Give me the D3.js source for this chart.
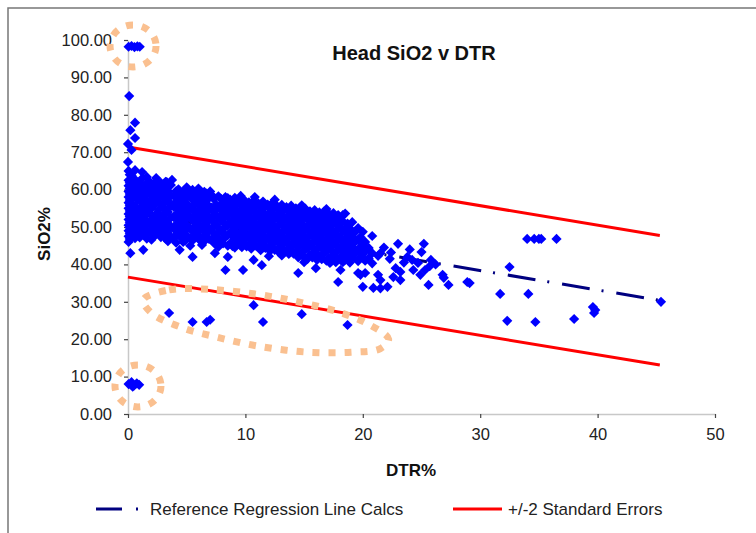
<!DOCTYPE html>
<html lang="en">
<head>
<meta charset="UTF-8">
<title>Head SiO2 v DTR</title>
<style>
  * { margin: 0; padding: 0; }
  html, body { overflow: hidden; background: #fff; }
  text { font-family: "Liberation Sans", Arial, sans-serif; }
</style>
</head>
<body>
<div id="chart"></div>
<script src="https://cdn.jsdelivr.net/npm/d3@7/dist/d3.min.js"></script>
<script>
// ---- data (DTR%, SiO2%) ----
const topPoints = [[0.05, 98.2], [0.3, 98.4], [0.55, 98.1], [0.8, 98.3], [1.0, 98.2]]
const bottomPoints = [[0.05, 8.0], [0.3, 8.5], [0.5, 7.6], [0.75, 8.2], [0.95, 7.8], [0.4, 7.3]]
const highPoints = [[0.1, 85.0], [0.6, 77.9], [0.2, 75.9], [0.6, 73.8], [0.0, 72.2], [0.3, 70.6],
  [0.0, 67.4], [0.6, 65.2], [1.2, 64.7], [3.3, 62.0], [3.75, 62.6]]
const lowPoints = [[3.5, 27.0], [5.5, 24.6], [6.7, 24.6], [7.0, 25.2], [10.7, 29.1], [11.5, 24.6],
  [14.8, 26.7], [18.7, 23.8]]
const edgePoints = [[0.2, 43.0], [1.3, 43.9], [4.4, 43.9], [5.5, 42.0], [7.4, 43.0], [8.5, 42.0],
  [8.3, 38.5], [9.8, 38.5], [10.7, 41.2], [11.4, 39.8], [14.5, 37.7], [16.0, 39.0], [18.1, 38.5],
  [19.6, 37.7], [17.2, 40.4], [16.2, 42.5], [17.9, 35.3], [20.0, 34.0], [20.9, 33.7], [21.5, 33.6],
  [22.1, 34.0], [21.3, 37.2], [20.2, 37.7], [21.5, 35.8], [19.8, 37.2],
  [1.6, 63.4], [2.4, 63.1], [5.0, 60.6], [6.0, 60.3], [7.0, 59.5], [9.6, 58.3], [10.8, 58.0],
  [12.5, 57.3], [14.8, 55.8], [16.9, 54.8], [18.5, 53.6], [12.0, 42.2], [15.0, 40.6]]
const mainCluster = [
  [0.05, 65.0], [0.05, 62.5], [0.05, 61.0], [0.05, 59.5], [0.05, 58.0], [0.05, 56.5], [0.05, 55.0],
  [0.05, 53.5], [0.05, 52.0], [0.05, 50.5], [0.05, 49.0], [0.05, 47.5], [0.05, 46.0],
  [0.3, 63.8], [0.3, 60.2], [0.3, 57.3], [0.3, 54.1], [0.3, 51.2], [0.3, 48.6],
  [0.6, 62.7], [0.6, 61.1], [0.6, 58.8], [0.6, 55.6], [0.6, 52.7], [0.6, 49.8], [0.6, 47.0],
  [1.0, 61.9], [1.0, 59.6], [1.0, 57.1], [1.0, 54.4], [1.0, 51.8], [1.0, 49.3], [1.0, 47.2],
  [1.4, 60.8], [1.4, 58.2], [1.4, 55.5], [1.4, 53.0], [1.4, 50.4], [1.4, 48.0],
  [1.8, 62.2], [1.8, 59.1], [1.8, 56.3], [1.8, 53.9], [1.8, 51.1], [1.8, 48.7],
  [2.2, 61.5], [2.2, 58.6], [2.2, 55.9], [2.2, 52.4], [2.2, 49.9], [2.2, 47.5],
  [2.6, 60.4], [2.6, 57.7], [2.6, 54.6], [2.6, 51.5], [2.6, 48.9],
  [3.0, 61.0], [3.0, 58.9], [3.0, 56.2], [3.0, 53.3], [3.0, 50.6], [3.0, 47.8],
  [3.4, 59.6], [3.4, 57.0], [3.4, 54.0], [3.4, 51.0], [3.4, 48.4], [3.4, 46.2],
  [3.9, 58.3], [3.9, 55.4], [3.9, 52.6], [3.9, 49.6], [3.9, 47.0],
  [4.3, 60.1], [4.3, 57.5], [4.3, 54.8], [4.3, 51.8], [4.3, 48.8],
  [4.7, 59.2], [4.7, 56.6], [4.7, 53.6], [4.7, 50.9], [4.7, 48.1], [4.7, 46.0],
  [5.1, 58.8], [5.1, 55.9], [5.1, 53.2], [5.1, 50.2], [5.1, 47.4],
  [5.5, 59.9], [5.5, 57.3], [5.5, 54.5], [5.5, 51.7], [5.5, 48.9], [5.5, 46.4],
  [5.9, 59.4], [5.9, 56.7], [5.9, 53.9], [5.9, 50.8], [5.9, 47.9],
  [6.3, 58.5], [6.3, 55.7], [6.3, 52.9], [6.3, 49.9], [6.3, 47.1], [6.3, 45.2],
  [6.7, 58.9], [6.7, 56.2], [6.7, 53.4], [6.7, 50.4], [6.7, 48.3],
  [7.1, 58.6], [7.1, 55.2], [7.1, 52.4], [7.1, 49.5], [7.1, 46.6],
  [7.5, 56.0], [7.5, 53.1], [7.5, 50.6], [7.5, 47.8], [7.5, 45.3],
  [7.9, 57.6], [7.9, 54.7], [7.9, 51.9], [7.9, 49.0], [7.9, 46.2],
  [8.3, 58.0], [8.3, 55.5], [8.3, 52.7], [8.3, 50.0], [8.3, 47.3],
  [8.7, 57.3], [8.7, 54.3], [8.7, 51.4], [8.7, 48.5], [8.7, 45.6],
  [9.1, 57.8], [9.1, 55.0], [9.1, 52.3], [9.1, 49.6], [9.1, 46.9], [9.1, 44.5],
  [9.5, 56.9], [9.5, 54.1], [9.5, 51.2], [9.5, 48.3], [9.5, 45.8],
  [9.9, 57.2], [9.9, 54.6], [9.9, 51.8], [9.9, 49.2], [9.9, 46.5],
  [10.3, 56.6], [10.3, 53.8], [10.3, 50.9], [10.3, 48.0], [10.3, 45.3],
  [10.7, 57.0], [10.7, 54.4], [10.7, 51.6], [10.7, 48.8], [10.7, 46.1],
  [11.1, 56.3], [11.1, 53.5], [11.1, 50.5], [11.1, 47.6], [11.1, 44.8],
  [11.5, 56.8], [11.5, 54.0], [11.5, 51.3], [11.5, 48.5], [11.5, 45.7],
  [11.9, 56.0], [11.9, 53.2], [11.9, 50.2], [11.9, 47.3], [11.9, 44.4],
  [12.3, 56.4], [12.3, 53.7], [12.3, 50.8], [12.3, 48.1], [12.3, 45.4],
  [12.7, 55.6], [12.7, 52.9], [12.7, 50.0], [12.7, 47.0], [12.7, 44.0],
  [13.1, 55.9], [13.1, 53.3], [13.1, 50.6], [13.1, 47.7], [13.1, 45.0], [13.1, 42.4],
  [13.5, 55.3], [13.5, 52.5], [13.5, 49.6], [13.5, 46.7], [13.5, 43.7],
  [13.9, 55.7], [13.9, 52.8], [13.9, 50.1], [13.9, 47.4], [13.9, 44.6],
  [14.3, 55.0], [14.3, 52.2], [14.3, 49.3], [14.3, 46.3], [14.3, 43.4],
  [14.7, 54.7], [14.7, 51.9], [14.7, 49.0], [14.7, 46.0], [14.7, 42.8],
  [15.1, 54.9], [15.1, 52.4], [15.1, 49.5], [15.1, 46.8], [15.1, 44.0],
  [15.5, 54.2], [15.5, 51.5], [15.5, 48.6], [15.5, 45.6], [15.5, 42.6],
  [15.9, 54.5], [15.9, 51.8], [15.9, 48.9], [15.9, 46.2], [15.9, 43.2],
  [16.3, 53.9], [16.3, 51.1], [16.3, 48.2], [16.3, 45.3], [16.3, 42.1],
  [16.7, 54.1], [16.7, 51.4], [16.7, 48.6], [16.7, 45.8], [16.7, 43.0],
  [17.1, 53.6], [17.1, 50.7], [17.1, 47.9], [17.1, 44.9], [17.1, 41.7],
  [17.5, 53.7], [17.5, 50.9], [17.5, 48.0], [17.5, 45.2], [17.5, 42.4],
  [17.9, 53.2], [17.9, 50.4], [17.9, 47.5], [17.9, 44.6], [17.9, 41.4],
  [18.3, 53.2], [18.3, 51.5], [18.3, 48.8], [18.3, 46.0], [18.3, 43.3], [18.3, 40.6],
  [18.7, 50.9], [18.7, 48.1], [18.7, 45.4], [18.7, 42.5],
  [19.1, 51.3], [19.1, 47.4], [19.1, 44.8], [19.1, 41.8],
  [19.6, 49.7], [19.6, 46.5], [19.6, 43.9], [19.6, 40.9],
  [20.0, 48.7], [20.0, 45.2], [20.0, 42.7],
  [20.5, 44.4], [20.5, 41.6], [20.8, 47.6], [20.8, 43.0], [20.8, 40.3],
  [21.3, 42.3], [21.5, 43.0]
]
const clusterFill = [
  [0.15, 64.0], [0.15, 61.8], [0.15, 60.3], [0.15, 58.8], [0.15, 57.2], [0.15, 55.8], [0.15, 54.3],
  [0.15, 52.8], [0.15, 51.3], [0.15, 49.8], [0.15, 48.3], [0.15, 46.8],
  [0.45, 62.0], [0.45, 59.0], [0.45, 55.8], [0.45, 52.6], [0.45, 50.0], [0.45, 47.8],
  [0.8, 60.0], [0.8, 57.4], [0.8, 54.1], [0.8, 51.2], [0.8, 48.5],
  [1.2, 63.0], [1.2, 60.7], [1.2, 58.4], [1.2, 55.7], [1.2, 53.1], [1.2, 50.6], [1.2, 48.2],
  [1.6, 61.6], [1.6, 59.5], [1.6, 56.9], [1.6, 54.2], [1.6, 51.7], [1.6, 49.2], [1.6, 46.9],
  [2.0, 60.3], [2.0, 57.5], [2.0, 55.0], [2.0, 52.0], [2.0, 49.0], [2.0, 46.6],
  [2.4, 62.3], [2.4, 59.9], [2.4, 56.8], [2.4, 53.5], [2.4, 50.7], [2.4, 48.1],
  [2.8, 61.8], [2.8, 59.0], [2.8, 56.1], [2.8, 53.0], [2.8, 50.1], [2.8, 47.3],
  [3.2, 62.1], [3.2, 60.1], [3.2, 57.6], [3.2, 54.7], [3.2, 52.0], [3.2, 49.3], [3.2, 46.9],
  [3.65, 61.2], [3.65, 58.4], [3.65, 55.6], [3.65, 52.5], [3.65, 49.8], [3.65, 47.3],
  [4.1, 59.6], [4.1, 56.7], [4.1, 53.4], [4.1, 50.7], [4.1, 47.9], [4.1, 45.8],
  [4.5, 58.4], [4.5, 55.5], [4.5, 52.8], [4.5, 49.9], [4.5, 47.2],
  [4.9, 60.0], [4.9, 57.6], [4.9, 54.9], [4.9, 52.0], [4.9, 49.1], [4.9, 46.5],
  [5.3, 58.1], [5.3, 55.2], [5.3, 52.5], [5.3, 49.6], [5.3, 47.0], [5.3, 45.0],
  [5.7, 58.6], [5.7, 56.0], [5.7, 53.0], [5.7, 50.1], [5.7, 47.6],
  [6.1, 57.7], [6.1, 54.8], [6.1, 52.0], [6.1, 49.2], [6.1, 46.5],
  [6.5, 59.4], [6.5, 57.2], [6.5, 54.5], [6.5, 51.6], [6.5, 48.8], [6.5, 46.2],
  [6.9, 57.7], [6.9, 54.9], [6.9, 51.9], [6.9, 49.0], [6.9, 46.8],
  [7.3, 57.5], [7.3, 54.1], [7.3, 51.3], [7.3, 48.4], [7.3, 45.8],
  [7.7, 58.2], [7.7, 55.4], [7.7, 52.6], [7.7, 49.8], [7.7, 47.0], [7.7, 44.7],
  [8.1, 56.6], [8.1, 53.8], [8.1, 51.2], [8.1, 48.4], [8.1, 45.6],
  [8.5, 57.7], [8.5, 55.8], [8.5, 53.1], [8.5, 50.4], [8.5, 47.8], [8.5, 45.0],
  [8.9, 56.2], [8.9, 53.3], [8.9, 50.5], [8.9, 47.6], [8.9, 44.9],
  [9.3, 56.5], [9.3, 53.6], [9.3, 50.8], [9.3, 48.0], [9.3, 45.4],
  [9.7, 55.6], [9.7, 52.8], [9.7, 50.1], [9.7, 47.3], [9.7, 44.6],
  [10.1, 56.0], [10.1, 53.1], [10.1, 50.3], [10.1, 47.5], [10.1, 44.8],
  [10.5, 55.2], [10.5, 52.5], [10.5, 49.7], [10.5, 46.9], [10.5, 44.2],
  [10.9, 55.7], [10.9, 52.9], [10.9, 50.0], [10.9, 47.2], [10.9, 45.0],
  [11.3, 55.0], [11.3, 52.2], [11.3, 49.3], [11.3, 46.4], [11.3, 43.8],
  [11.7, 55.6], [11.7, 52.6], [11.7, 49.8], [11.7, 46.9], [11.7, 44.4],
  [12.1, 54.8], [12.1, 51.9], [12.1, 49.0], [12.1, 46.3], [12.1, 43.6],
  [12.5, 55.2], [12.5, 52.2], [12.5, 49.4], [12.5, 46.5], [12.5, 43.9],
  [12.9, 54.4], [12.9, 51.6], [12.9, 48.6], [12.9, 45.8], [12.9, 43.1],
  [13.3, 54.6], [13.3, 51.9], [13.3, 49.1], [13.3, 46.2], [13.3, 43.6],
  [13.7, 54.1], [13.7, 51.2], [13.7, 48.3], [13.7, 45.5], [13.7, 42.8],
  [14.1, 54.2], [14.1, 51.5], [14.1, 48.7], [14.1, 45.7], [14.1, 42.9],
  [14.5, 53.6], [14.5, 50.6], [14.5, 47.6], [14.5, 44.7], [14.5, 41.9],
  [14.9, 53.6], [14.9, 50.6], [14.9, 47.9], [14.9, 45.1], [14.9, 42.2],
  [15.3, 53.2], [15.3, 50.3], [15.3, 47.3], [15.3, 44.4], [15.3, 41.5],
  [15.7, 53.2], [15.7, 50.4], [15.7, 47.6], [15.7, 44.6], [15.7, 41.9],
  [16.1, 52.8], [16.1, 49.8], [16.1, 46.9], [16.1, 44.1], [16.1, 41.2],
  [16.5, 52.6], [16.5, 49.8], [16.5, 47.0], [16.5, 44.3], [16.5, 41.4],
  [16.9, 52.3], [16.9, 49.4], [16.9, 46.6], [16.9, 43.6], [16.9, 41.0],
  [17.3, 52.3], [17.3, 49.3], [17.3, 46.5], [17.3, 43.7], [17.3, 40.8],
  [17.7, 51.9], [17.7, 49.0], [17.7, 46.1], [17.7, 43.2], [17.7, 40.6],
  [18.1, 52.0], [18.1, 49.9], [18.1, 47.1], [18.1, 44.6], [18.1, 41.9],
  [18.5, 49.5], [18.5, 46.9], [18.5, 44.0], [18.5, 41.3],
  [18.9, 49.6], [18.9, 46.6], [18.9, 43.6], [18.9, 40.5],
  [19.3, 48.5], [19.3, 45.9], [19.3, 42.9],
  [19.8, 47.3], [19.8, 44.6], [19.8, 42.0],
  [20.2, 46.0], [20.2, 43.5], [20.2, 41.0]
]
const tailPoints = [[22.6, 36.6], [23.2, 35.8], [23.0, 45.5], [25.2, 45.5], [23.8, 42.0], [24.2, 41.2],
  [24.7, 40.4], [25.3, 38.5], [25.8, 41.2], [24.3, 38.5], [24.9, 37.2], [25.6, 34.5], [26.9, 36.4],
  [27.3, 34.5], [26.8, 37.2], [28.9, 35.3], [29.1, 35.0], [24.0, 44.0], [25.0, 43.3], [25.7, 39.5],
  [23.5, 40.5], [26.2, 40.0], [22.8, 39.0], [22.3, 41.5], [21.8, 44.5], [22.4, 43.2], [23.2, 38.0],
  [31.7, 32.1], [32.3, 24.9], [32.5, 39.3], [34.0, 46.8], [34.6, 46.8], [35.0, 46.8], [35.2, 46.8],
  [36.5, 46.8], [34.1, 32.1], [34.7, 24.6], [38.0, 25.4], [39.6, 28.6], [39.7, 27.0], [39.8, 27.8],
  [45.4, 30.0]]

// regression line and +/- 2 standard errors
const lineX = [0, 45.3]
const regressionY = [54.0, 30.4]
const upperY = [71.4, 47.7]
const lowerY = [36.6, 13.1]

// axis ticks
const xTicks = [0, 10, 20, 30, 40, 50]
const yTicks = [0, 10, 20, 30, 40, 50, 60, 70, 80, 90, 100]

// hand drawn annotations (data units)
const circleTop = [0.43, 98.4]
const circleBottom = [0.85, 7.5]
const blobOutline = [[1.3, 30.5], [3.5, 33.2], [7, 33.3], [11, 32], [14.5, 30], [18, 27.2], [20.5, 24],
  [22.2, 20], [21.5, 17.5], [19, 16.5], [15, 16.6], [11, 18.2], [7.5, 20.6], [4.5, 23.2], [2, 27]]

function drawChart() {
  const width = 756
  const height = 533
  const svg = d3.select('#chart').append('svg')
    .attr('width', width)
    .attr('height', height)

  // outer frame (only left/top visible)
  svg.append('rect')
    .attr('x', 8).attr('y', 8)
    .attr('width', 800).attr('height', 600)
    .attr('fill', 'none')
    .attr('stroke', '#777')
    .attr('stroke-width', 1.5)

  const x = d3.scaleLinear().domain([0, 50]).range([128, 715])
  const y = d3.scaleLinear().domain([0, 100]).range([414, 40])

  // axes
  const yAxis = svg.append('g').attr('transform', `translate(${x(0)},0)`)
    .call(d3.axisLeft(y).tickValues(yTicks).tickFormat(d3.format('.2f')).tickSize(4).tickSizeOuter(0))
  const xAxis = svg.append('g').attr('transform', `translate(0,${y(0)})`)
    .call(d3.axisBottom(x).tickValues(xTicks).tickSize(4).tickSizeOuter(0))
  ;[xAxis, yAxis].forEach(g => {
    g.select('.domain').attr('stroke', '#c8c8c8').attr('stroke-width', 1.5)
    g.selectAll('.tick line').attr('stroke', '#444').attr('stroke-width', 1.2)
    g.selectAll('.tick text').attr('fill', '#222').style('font-size', '16.5px')
      .style('font-family', '"Liberation Sans", Arial, sans-serif')
  })
  yAxis.selectAll('.tick text').attr('x', -16)
  xAxis.selectAll('.tick text').attr('y', 14)

  // lines (points sit on top of them)
  const seg = ys => d3.line()(lineX.map((v, i) => [x(v), y(ys[i])]))
  svg.append('path').attr('d', seg(upperY)).attr('stroke', '#ff0000').attr('stroke-width', 3).attr('fill', 'none')
  svg.append('path').attr('d', seg(lowerY)).attr('stroke', '#ff0000').attr('stroke-width', 3).attr('fill', 'none')
  svg.append('path').attr('d', seg(regressionY))
    .attr('stroke', '#000080').attr('stroke-width', 3).attr('fill', 'none')
    .attr('stroke-dasharray', '28,12,2,13')

  // points
  const allPoints = [].concat(topPoints, highPoints, mainCluster, clusterFill, edgePoints, lowPoints, bottomPoints, tailPoints)
  const diamond = d3.symbol().type(d3.symbolSquare).size(52)
  svg.append('g').selectAll('path')
    .data(allPoints)
    .join('path')
    .attr('d', diamond)
    .attr('transform', d => `translate(${x(d[0])},${y(d[1])}) rotate(45)`)
    .attr('fill', '#0000ff')

  // annotations
  const tan = '#fac090'
  ;[circleTop, circleBottom].forEach(c => {
    svg.append('ellipse')
      .attr('cx', x(c[0])).attr('cy', y(c[1]))
      .attr('rx', 23).attr('ry', 21)
      .attr('fill', 'none').attr('stroke', tan)
      .attr('stroke-width', 7).attr('stroke-dasharray', '7,9')
  })
  svg.append('path')
    .attr('d', d3.line().curve(d3.curveCatmullRomClosed)(blobOutline.map(p => [x(p[0]), y(p[1])])))
    .attr('fill', 'none').attr('stroke', tan)
    .attr('stroke-width', 7).attr('stroke-dasharray', '7,9')

  // titles
  svg.append('text').attr('x', 414).attr('y', 60).attr('text-anchor', 'middle')
    .style('font-size', '20px').style('font-weight', 'bold').attr('fill', '#111')
    .text('Head SiO2 v DTR')
  svg.append('text').attr('transform', 'translate(50,234) rotate(-90)').attr('text-anchor', 'middle')
    .style('font-size', '17px').style('font-weight', 'bold').attr('fill', '#111')
    .text('SiO2%')
  svg.append('text').attr('x', 411).attr('y', 476).attr('text-anchor', 'middle')
    .style('font-size', '17px').style('font-weight', 'bold').attr('fill', '#111')
    .text('DTR%')

  // legend
  const legend = svg.append('g')
  legend.append('line').attr('x1', 96).attr('x2', 140).attr('y1', 509).attr('y2', 509)
    .attr('stroke', '#000080').attr('stroke-width', 3).attr('stroke-dasharray', '26,14,2,10')
  legend.append('text').attr('x', 150).attr('y', 515).style('font-size', '17px').attr('fill', '#222')
    .text('Reference Regression Line Calcs')
  legend.append('line').attr('x1', 453).attr('x2', 502).attr('y1', 509).attr('y2', 509)
    .attr('stroke', '#ff0000').attr('stroke-width', 3)
  legend.append('text').attr('x', 508).attr('y', 515).style('font-size', '17px').attr('fill', '#222')
    .text('+/-2 Standard Errors')
}

drawChart()
</script>
</body>
</html>
